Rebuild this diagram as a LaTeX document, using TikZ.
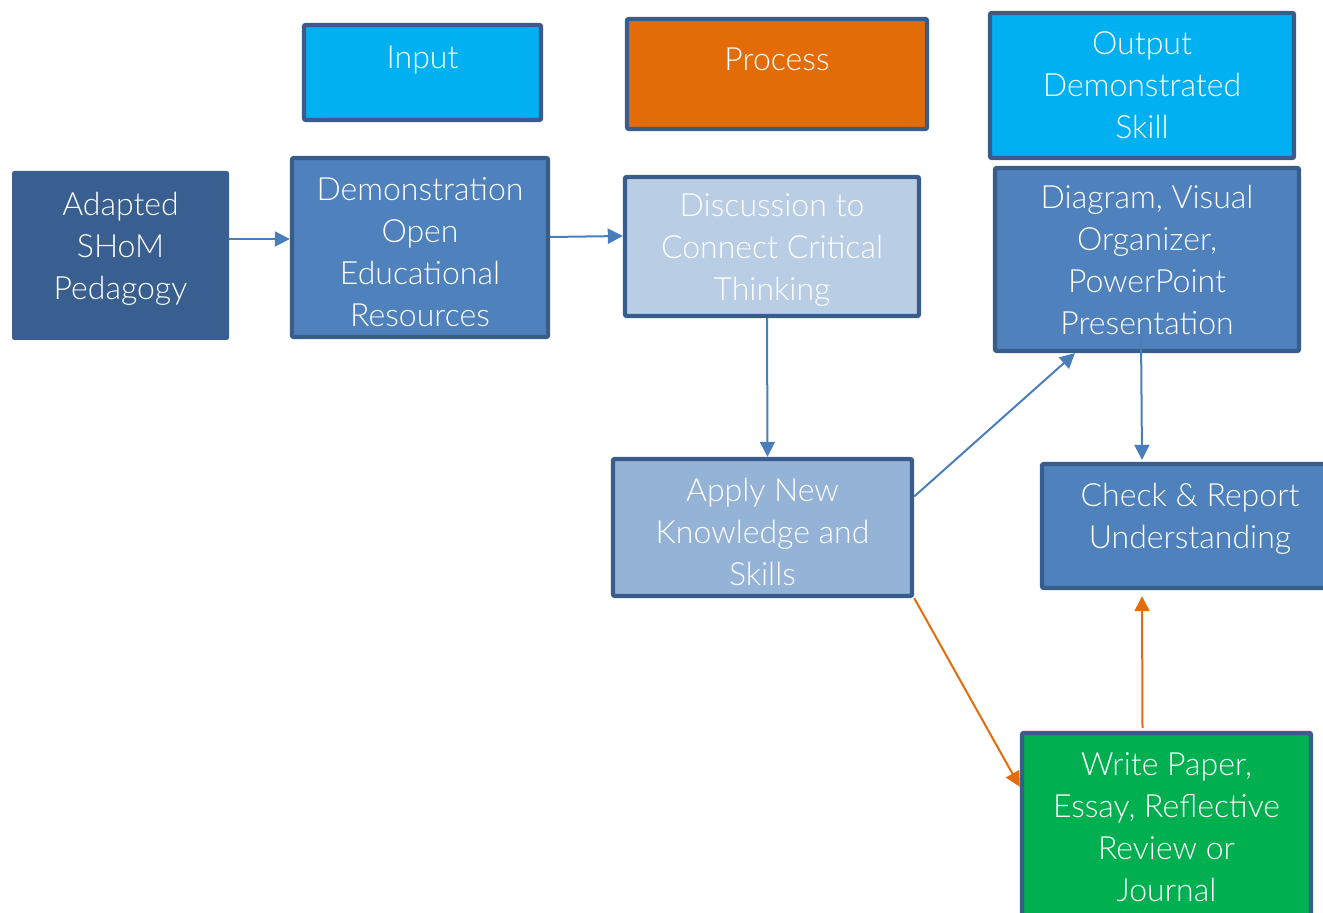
\documentclass[tikz,border=0pt]{standalone}
\usepackage{fontspec}
\setmainfont{Lato}[UprightFont=* Light]
\usetikzlibrary{positioning,arrows.meta}

\definecolor{boxline}{HTML}{385D8A}
\definecolor{skyfill}{HTML}{00B0F0}
\definecolor{procfill}{HTML}{E36C09}
\definecolor{darkfill}{HTML}{395F90}
\definecolor{midfill}{HTML}{4F81BD}
\definecolor{lightfill}{HTML}{95B3D7}
\definecolor{palefill}{HTML}{B9CDE5}
\definecolor{greenfill}{HTML}{00B050}
\definecolor{bluearrow}{HTML}{4A7EBB}
\definecolor{orangearrow}{HTML}{E46C0A}

\newcommand{\padtop}[1]{\rule{0pt}{#1}}

\begin{document}
\begin{tikzpicture}[x=0.5pt, y=-0.5pt,
    every node/.style = {align=center, text=white, font=\fontsize{16}{21}\selectfont},
    stepbox/.style = {draw=boxline, line width=2.2pt, rounded corners=1pt, inner sep=0pt},
    bluelink/.style = {draw=bluearrow, line width=1pt, -{Triangle[length=7.5pt,width=7.5pt]}},
    orangelink/.style = {draw=orangearrow, line width=1pt, -{Triangle[length=7.5pt,width=7.5pt]}}]
  \useasboundingbox (0,0) rectangle (1323,913);

  \node [stepbox, fill=skyfill, minimum width=118.5pt, minimum height=47.5pt, text depth=15pt] (input) at (422.5,72.5) {Input};
  \node [stepbox, fill=procfill, minimum width=150pt, minimum height=55pt, text depth=15pt] (process) at (777,74) {Process};
  \node [stepbox, fill=skyfill, minimum width=152pt, minimum height=72.5pt] (output) at (1142,85.5) {Output\\Demonstrated\\Skill};

  \node [draw=darkfill, line width=0.5pt, rounded corners=1pt, inner sep=0pt, fill=darkfill, minimum width=108pt, minimum height=84pt, text depth=10pt] (adapted) at (120.5,255.5) {Adapted\\SHoM\\Pedagogy};
  \node [stepbox, fill=midfill, minimum width=128pt, minimum height=89.5pt] (demo) at (420,247.5) {\padtop{16pt}Demonstration\\Open\\Educational\\Resources};
  \node [stepbox, fill=palefill, minimum width=147pt, minimum height=69.5pt] (discuss) at (772,246.5) {\padtop{15pt}Discussion to\\Connect Critical\\Thinking};
  \node [stepbox, fill=midfill, minimum width=152pt, minimum height=91.5pt] (diagram) at (1147,259.5) {Diagram, Visual\\Organizer,\\PowerPoint\\Presentation};
  \node [stepbox, fill=lightfill, minimum width=149.5pt, minimum height=68.5pt] (apply) at (762.5,527.5) {\padtop{16pt}Apply New\\Knowledge and\\Skills};
  \node [stepbox, fill=midfill, minimum width=148pt, minimum height=62pt, text depth=10pt] (check) at (1190,526) {Check \& Report\\Understanding};
  \node [stepbox, fill=greenfill, minimum width=144.5pt, minimum height=94pt] (write) at (1166.5,827) {Write Paper,\\Essay, Reflective\\Review or\\Journal};

  \draw [bluelink] ([yshift=8.25pt]adapted.east) -- ([yshift=4.25pt]demo.west);
  \draw [bluelink] ([yshift=5.25pt]demo.east) -- ([yshift=5.25pt]discuss.west);
  \draw [bluelink] ([xshift=-2.5pt]discuss.south) -- ([xshift=2.5pt]apply.north);
  \draw [bluelink] ([yshift=15.5pt]apply.east) -- ([xshift=-36pt]diagram.south);
  \draw [bluelink] ([xshift=-3pt,yshift=10pt]diagram.south) -- ([xshift=-24pt,yshift=1pt]check.north);
  \draw [orangelink] (apply.south east) -- ([yshift=-28pt]write.north west);
  \draw [orangelink] ([xshift=-12pt,yshift=1.5pt]write.north) -- ([xshift=-24pt,yshift=-3pt]check.south);
\end{tikzpicture}
\end{document}
